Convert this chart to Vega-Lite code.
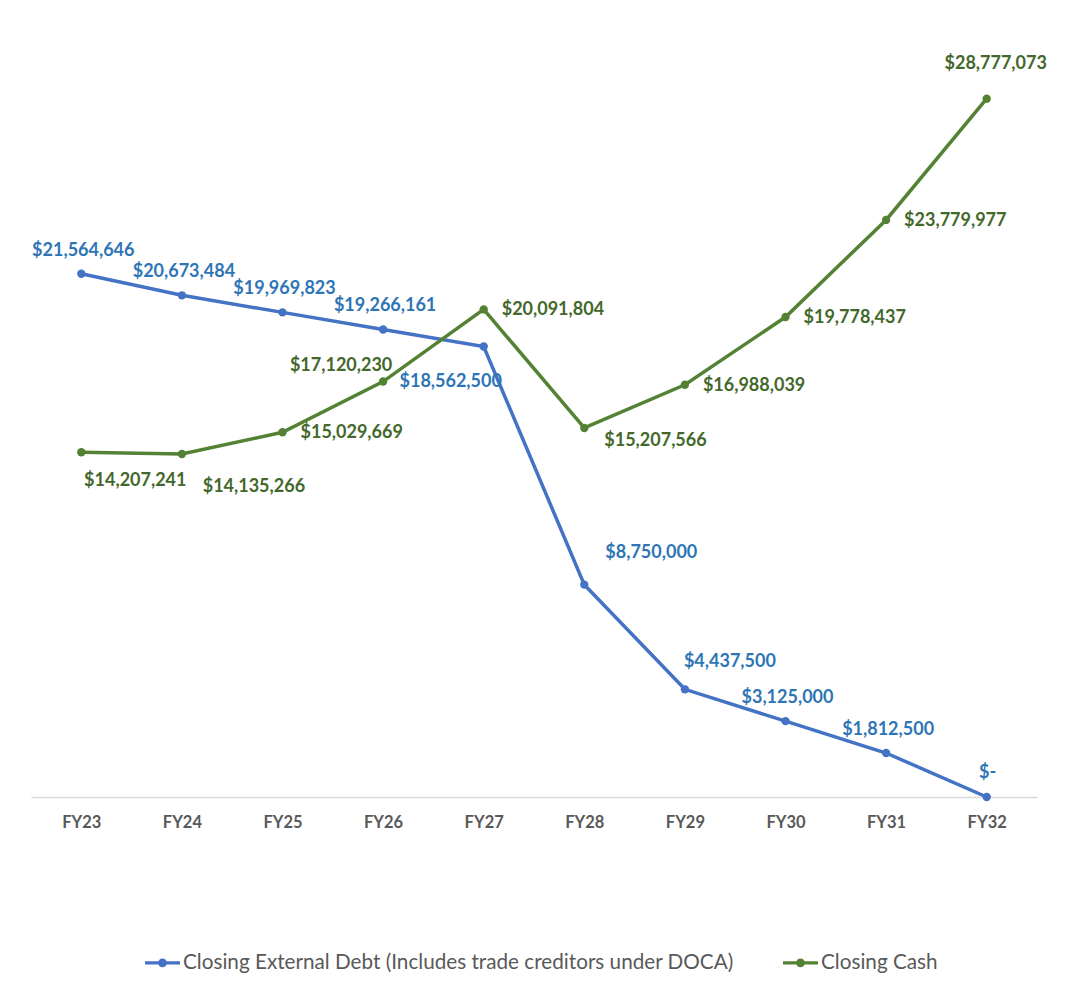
{
  "$schema": "https://vega.github.io/schema/vega-lite/v6.json",
  "width": 1006,
  "height": 728,
  "autosize": {"type": "none"},
  "padding": {"left": 31, "top": 69, "right": 31, "bottom": 188},
  "background": "white",
  "config": {
    "view": {"stroke": null},
    "font": "Lato",
    "text": {"font": "Lato", "fontWeight": "bold", "fontSize": 18, "baseline": "middle"}
  },
  "data": {
    "values": [
      {"fy": "FY23", "series": "Closing External Debt (Includes trade creditors under DOCA)", "value": 21564646},
      {"fy": "FY24", "series": "Closing External Debt (Includes trade creditors under DOCA)", "value": 20673484},
      {"fy": "FY25", "series": "Closing External Debt (Includes trade creditors under DOCA)", "value": 19969823},
      {"fy": "FY26", "series": "Closing External Debt (Includes trade creditors under DOCA)", "value": 19266161},
      {"fy": "FY27", "series": "Closing External Debt (Includes trade creditors under DOCA)", "value": 18562500},
      {"fy": "FY28", "series": "Closing External Debt (Includes trade creditors under DOCA)", "value": 8750000},
      {"fy": "FY29", "series": "Closing External Debt (Includes trade creditors under DOCA)", "value": 4437500},
      {"fy": "FY30", "series": "Closing External Debt (Includes trade creditors under DOCA)", "value": 3125000},
      {"fy": "FY31", "series": "Closing External Debt (Includes trade creditors under DOCA)", "value": 1812500},
      {"fy": "FY32", "series": "Closing External Debt (Includes trade creditors under DOCA)", "value": 0},
      {"fy": "FY23", "series": "Closing Cash", "value": 14207241},
      {"fy": "FY24", "series": "Closing Cash", "value": 14135266},
      {"fy": "FY25", "series": "Closing Cash", "value": 15029669},
      {"fy": "FY26", "series": "Closing Cash", "value": 17120230},
      {"fy": "FY27", "series": "Closing Cash", "value": 20091804},
      {"fy": "FY28", "series": "Closing Cash", "value": 15207566},
      {"fy": "FY29", "series": "Closing Cash", "value": 16988039},
      {"fy": "FY30", "series": "Closing Cash", "value": 19778437},
      {"fy": "FY31", "series": "Closing Cash", "value": 23779977},
      {"fy": "FY32", "series": "Closing Cash", "value": 28777073}
    ]
  },
  "encoding": {
    "x": {
      "field": "fy", "type": "ordinal",
      "scale": {"paddingInner": 0, "paddingOuter": 0},
      "axis": {
        "title": null, "labelAngle": 0, "ticks": false,
        "domainColor": "#D9D9D9", "domainWidth": 1.5,
        "labelColor": "#595959", "labelFont": "Lato", "labelFontSize": 16.5, "labelFontWeight": "bold",
        "labelPadding": 17
      }
    },
    "y": {
      "field": "value", "type": "quantitative",
      "scale": {"domain": [0, 30000000], "nice": false},
      "axis": null
    }
  },
  "layer": [
    {
      "mark": {"type": "line", "strokeWidth": 3.5, "point": {"filled": true, "size": 70}},
      "encoding": {
        "color": {
          "field": "series", "type": "nominal",
          "scale": {
            "domain": ["Closing External Debt (Includes trade creditors under DOCA)", "Closing Cash"],
            "range": ["#4472C4", "#548235"]
          },
          "legend": {
            "title": null,
            "orient": "none",
            "direction": "horizontal",
            "legendX": 114,
            "legendY": 876,
            "symbolType": "M-1,-0.09H1V0.09H-1Z M0.25,0 A0.25,0.25 0 1,1 -0.25,0 A0.25,0.25 0 1,1 0.25,0 Z",
            "symbolSize": 1225,
            "symbolStrokeWidth": 0,
            "labelFont": "Lato",
            "labelFontSize": 20.7,
            "labelColor": "#595959",
            "labelOffset": 3,
            "columnPadding": 49,
            "labelLimit": 800,
            "encode": {
              "symbols": {"update": {"fill": {"scale": "color", "field": "value"}, "strokeWidth": {"value": 0}, "opacity": {"value": 1}}}
            }
          }
        }
      }
    },
    {
      "transform": [
        {"filter": "datum.series != 'Closing Cash'"},
        {"filter": {"field": "fy", "oneOf": ["FY23", "FY24", "FY25", "FY26", "FY30", "FY31"]}}
      ],
      "mark": {"type": "text", "dx": 2, "dy": -23, "align": "center", "color": "#2E75B6"},
      "encoding": {"text": {"field": "value", "format": "$,.0f"}}
    },
    {
      "transform": [
        {"filter": "datum.series != 'Closing Cash'"},
        {"filter": {"field": "fy", "equal": "FY27"}}
      ],
      "mark": {"type": "text", "dx": -33, "dy": 35, "align": "center", "color": "#2E75B6"},
      "encoding": {"text": {"field": "value", "format": "$,.0f"}}
    },
    {
      "transform": [
        {"filter": "datum.series != 'Closing Cash'"},
        {"filter": {"field": "fy", "equal": "FY28"}}
      ],
      "mark": {"type": "text", "dx": 67, "dy": -32, "align": "center", "color": "#2E75B6"},
      "encoding": {"text": {"field": "value", "format": "$,.0f"}}
    },
    {
      "transform": [
        {"filter": "datum.series != 'Closing Cash'"},
        {"filter": {"field": "fy", "equal": "FY29"}}
      ],
      "mark": {"type": "text", "dx": 45, "dy": -27, "align": "center", "color": "#2E75B6"},
      "encoding": {"text": {"field": "value", "format": "$,.0f"}}
    },
    {
      "transform": [
        {"filter": "datum.series != 'Closing Cash'"},
        {"filter": {"field": "fy", "equal": "FY32"}}
      ],
      "mark": {"type": "text", "dx": 1, "dy": -24, "align": "center", "color": "#2E75B6", "text": "$-"},
      "encoding": {}
    },
    {
      "transform": [
        {"filter": "datum.series == 'Closing Cash'"},
        {"filter": {"field": "fy", "oneOf": ["FY25", "FY27", "FY29", "FY30", "FY31"]}}
      ],
      "mark": {"type": "text", "dx": 18, "dy": 1, "align": "left", "color": "#43682B"},
      "encoding": {"text": {"field": "value", "format": "$,.0f"}}
    },
    {
      "transform": [
        {"filter": "datum.series == 'Closing Cash'"},
        {"filter": {"field": "fy", "equal": "FY23"}}
      ],
      "mark": {"type": "text", "dx": 54, "dy": 29, "align": "center", "color": "#43682B"},
      "encoding": {"text": {"field": "value", "format": "$,.0f"}}
    },
    {
      "transform": [
        {"filter": "datum.series == 'Closing Cash'"},
        {"filter": {"field": "fy", "equal": "FY24"}}
      ],
      "mark": {"type": "text", "dx": 72, "dy": 33, "align": "center", "color": "#43682B"},
      "encoding": {"text": {"field": "value", "format": "$,.0f"}}
    },
    {
      "transform": [
        {"filter": "datum.series == 'Closing Cash'"},
        {"filter": {"field": "fy", "equal": "FY26"}}
      ],
      "mark": {"type": "text", "dx": -42, "dy": -16, "align": "center", "color": "#43682B"},
      "encoding": {"text": {"field": "value", "format": "$,.0f"}}
    },
    {
      "transform": [
        {"filter": "datum.series == 'Closing Cash'"},
        {"filter": {"field": "fy", "equal": "FY28"}}
      ],
      "mark": {"type": "text", "dx": 20, "dy": 13, "align": "left", "color": "#43682B"},
      "encoding": {"text": {"field": "value", "format": "$,.0f"}}
    },
    {
      "transform": [
        {"filter": "datum.series == 'Closing Cash'"},
        {"filter": {"field": "fy", "equal": "FY32"}}
      ],
      "mark": {"type": "text", "dx": 9, "dy": -35, "align": "center", "color": "#43682B"},
      "encoding": {"text": {"field": "value", "format": "$,.0f"}}
    }
  ]
}
